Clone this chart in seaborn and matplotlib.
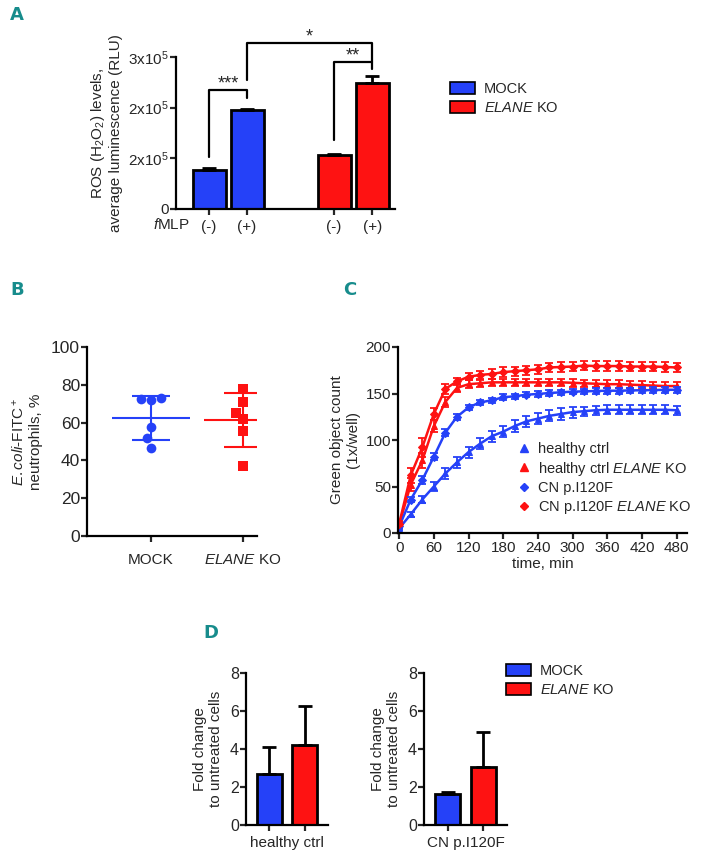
import numpy as np
import pandas as pd
import matplotlib
matplotlib.use('Agg')
import matplotlib.pyplot as plt
from matplotlib.patches import Patch
from matplotlib.lines import Line2D
import seaborn as sns

# --- Data ---
# Panel A: ROS levels (RLU)
a_genotype = ['MOCK', 'MOCK', 'ELANE KO', 'ELANE KO']
a_fmlp = ['(-)', '(+)', '(-)', '(+)']
a_pos = [0, 1, 3.29, 4.29]
a_mean = [0.77e5, 1.95e5, 1.06e5, 2.48e5]
a_err = [0.03e5, 0.03e5, 0.02e5, 0.15e5]
a_yticks = [0, 1e5, 2e5, 3e5]
a_yticklabels = ['0', '2x10$^5$', '2x10$^5$', '3x10$^5$']
# brackets: (x1, x2, top, left leg bottom, right leg bottom, stars)
a_brackets = [(0, 1, 2.35e5, 1.03e5, 2.19e5, '***'),
              (3.29, 4.29, 2.90e5, 1.36e5, 2.76e5, '**'),
              (1, 4.29, 3.27e5, 2.54e5, 2.90e5, '*')]

# Panel B: E.coli-FITC+ neutrophils, %
b_mock = [73.2, 72.2, 72.4, 57.7, 51.6, 46.8]
b_ko = [77.6, 71.0, 65.1, 61.8, 55.5, 36.8]

# Panel C: green object count over time
c_time = list(range(0, 481, 20))
c_healthy = [5, 20, 36, 50, 64, 76, 87, 96, 104, 109, 115, 120, 123, 126, 128, 130,
             131, 132, 132.5, 132.5, 132.5, 132.5, 132.5, 132.5, 132]
c_healthy_err = [2, 3, 4, 5, 6, 6, 6, 6, 6, 6, 6, 6, 6, 6, 6, 6, 5, 5, 5, 5, 5, 5, 5, 5, 5]
c_healthy_ko = [9, 52, 78, 115, 141, 156, 160, 161, 162, 162, 162, 162, 162, 162, 162, 161.5,
                161, 160.5, 160, 160, 159.5, 159, 158.5, 158, 158]
c_healthy_ko_err = [3, 7, 8, 6, 5, 4, 4, 4, 4, 4, 4, 4, 4, 4, 4, 4, 4, 4, 4, 4, 4, 4, 4, 4, 4]
c_cn = [7, 36, 57, 82, 108, 125, 135, 140.5, 142.6, 146, 147, 148.7, 149.5, 150.5, 151.3, 152,
        152.3, 152.7, 153, 153, 153.3, 153.5, 153.7, 154, 154]
c_cn_err = [2, 3, 4, 4, 4, 3, 3, 3, 3, 3, 3, 3, 3, 3, 3, 3, 3, 3, 3, 3, 3, 3, 3, 3, 3]
c_cn_ko = [10, 62, 92, 128, 155, 163, 168, 170, 171, 173, 174, 175, 176, 178, 178.5, 179,
           180, 179.5, 179.5, 179.5, 179, 179, 179, 178.5, 178]
c_cn_ko_err = [3, 8, 10, 6, 5, 4, 4, 4, 5, 5, 5, 5, 5, 5, 5, 5, 5, 5, 5, 5, 5, 5, 5, 5, 5]

# Panel D: fold change to untreated cells
d_genotype = ['MOCK', 'ELANE KO']
d_healthy = [2.7, 4.2]
d_healthy_err = [1.4, 2.05]
d_cn = [1.63, 3.06]
d_cn_err = [0.1, 1.85]

BLUE = '#2541F8'
RED = '#FE1212'
TEAL = '#178c8c'
PALETTE = {'MOCK': BLUE, 'ELANE KO': RED}
KO_LABEL = '$\\it{ELANE}$ KO'

# --- Style ---
sns.set_theme(style='ticks')
plt.rcParams['font.family'] = ['Liberation Sans', 'DejaVu Sans']
plt.rcParams['mathtext.fontset'] = 'custom'
plt.rcParams['mathtext.rm'] = 'Liberation Sans'
plt.rcParams['mathtext.it'] = 'Liberation Sans:italic'
plt.rcParams['mathtext.bf'] = 'Liberation Sans:bold'
plt.rcParams['axes.linewidth'] = 1.6
plt.rcParams['xtick.major.width'] = 1.6
plt.rcParams['ytick.major.width'] = 1.6
plt.rcParams['xtick.major.size'] = 4
plt.rcParams['ytick.major.size'] = 4
plt.rcParams['xtick.major.pad'] = 2
plt.rcParams['ytick.major.pad'] = 1
plt.rcParams['xtick.labelsize'] = 11
plt.rcParams['ytick.labelsize'] = 11
plt.rcParams['axes.labelsize'] = 11
plt.rcParams['axes.edgecolor'] = 'black'

W, H = 704, 857
fig = plt.figure(figsize=(W / 100, H / 100), dpi=100)


def px_axes(left, top, right, bottom):
    return fig.add_axes([left / W, 1 - bottom / H, (right - left) / W, (bottom - top) / H])


def panel_letter(x, y, s):
    fig.text(x / W, 1 - y / H, s, color=TEAL, fontsize=13, fontweight='bold',
             family=['Liberation Sans Narrow', 'DejaVu Sans'], ha='left', va='center')


# --- Panel A ---
axA = px_axes(176, 57, 395, 209)
dfA = pd.DataFrame({'pos': a_pos, 'value': a_mean, 'genotype': a_genotype})
sns.barplot(data=dfA, x='pos', y='value', hue='genotype', palette=PALETTE, native_scale=True,
            width=0.87, dodge=False, edgecolor='black', linewidth=2, errorbar=None,
            saturation=1, legend=False, ax=axA)
axA.errorbar(a_pos, a_mean, yerr=[np.zeros(len(a_err)), a_err], fmt='none', ecolor='black',
             elinewidth=2, capsize=5, capthick=2)
for x1, x2, top, b1, b2, stars in a_brackets:
    axA.plot([x1, x1, x2, x2], [b1, top, top, b2], color='black', lw=1.6, clip_on=False)
    axA.text((x1 + x2) / 2, top - 0.05e5, stars, ha='center', va='bottom', fontsize=13)
axA.set_xlim(-0.87, 4.89)
axA.set_ylim(0, 3e5)
axA.set_xticks(a_pos)
axA.set_xticklabels(a_fmlp)
axA.set_yticks(a_yticks)
axA.set_yticklabels(a_yticklabels)
axA.tick_params(axis='x', pad=4)
axA.set_xlabel('')
axA.set_ylabel('ROS (H$_2$O$_2$) levels,\naverage luminescence (RLU)', labelpad=4)
axA.text(0.064, -0.105, '$\\it{f}$MLP', transform=axA.transAxes, ha='right', va='center',
         fontsize=11)
sns.despine(ax=axA)
fig.legend(handles=[Patch(facecolor=BLUE, edgecolor='black', lw=1.2),
                    Patch(facecolor=RED, edgecolor='black', lw=1.2)],
           labels=['MOCK', KO_LABEL], loc='upper left', bbox_to_anchor=(450 / W, 1 - 82 / H),
           frameon=False, fontsize=10.5, handlelength=1.7, handleheight=0.9,
           handletextpad=0.6, labelspacing=0.35, borderpad=0, borderaxespad=0)
panel_letter(10, 15, 'A')

# --- Panel B ---
axB = px_axes(87, 347, 257, 536)
dfB = pd.DataFrame({'group': ['MOCK'] * len(b_mock) + ['ELANE KO'] * len(b_ko),
                    'value': b_mock + b_ko})
order = ['MOCK', 'ELANE KO']
sns.swarmplot(data=dfB[dfB.group == 'MOCK'], x='group', y='value', order=order, color=BLUE,
              marker='o', size=7, ax=axB)
sns.swarmplot(data=dfB[dfB.group == 'ELANE KO'], x='group', y='value', order=order, color=RED,
              marker='s', size=6.5, ax=axB)
for i, (vals, col) in enumerate([(b_mock, BLUE), (b_ko, RED)]):
    m = np.mean(vals)
    sd = np.std(vals, ddof=1)
    axB.hlines(m, i - 0.42, i + 0.42, color=col, lw=1.5, zorder=1)
    axB.hlines([m - sd, m + sd], i - 0.21, i + 0.21, color=col, lw=1.5, zorder=1)
    axB.vlines(i, m - sd, m + sd, color=col, lw=1.5, zorder=1)
axB.set_xlim(-0.696, 1.152)
axB.set_ylim(0, 100)
axB.set_yticks([0, 20, 40, 60, 80, 100])
axB.set_xticks([0, 1])
axB.set_xticklabels(['MOCK', KO_LABEL])
axB.tick_params(axis='y', labelsize=12.5)
axB.tick_params(axis='x', pad=8)
axB.set_xlabel('')
axB.set_ylabel('$\\it{E.coli}$-FITC$^+$\nneutrophils, %', labelpad=6)
sns.despine(ax=axB)
panel_letter(10, 290, 'B')

# --- Panel C ---
axC = px_axes(398, 347, 687, 533)
series = [(c_healthy, c_healthy_err, BLUE, '^', 'healthy ctrl'),
          (c_healthy_ko, c_healthy_ko_err, RED, '^', 'healthy ctrl ' + KO_LABEL),
          (c_cn, c_cn_err, BLUE, 'D', 'CN p.I120F'),
          (c_cn_ko, c_cn_ko_err, RED, 'D', 'CN p.I120F ' + KO_LABEL)]
handles = []
for vals, errs, col, mk, lab in series:
    sns.lineplot(x=c_time, y=vals, color=col, marker=mk, markersize=5 if mk == '^' else 3.8,
                 markeredgecolor=col, linewidth=1.8, ax=axC)
    axC.errorbar(c_time, vals, yerr=errs, fmt='none', ecolor=col, elinewidth=1.3,
                 capsize=2.8, capthick=1.3)
    handles.append(Line2D([], [], color=col, marker=mk, linestyle='none',
                          markersize=6 if mk == '^' else 4.5))
axC.set_xlim(-2, 498)
axC.set_ylim(0, 200)
axC.set_xticks(range(0, 481, 60))
axC.set_yticks([0, 50, 100, 150, 200])
axC.set_xlabel('time, min', labelpad=1)
axC.set_ylabel('Green object count\n(1x/well)', labelpad=4)
axC.legend(handles=handles, labels=[s[4] for s in series], loc='upper left',
           bbox_to_anchor=(0.41, 0.49), frameon=False, fontsize=10.5, handlelength=1.0,
           handletextpad=0.5, labelspacing=0.25, borderpad=0, borderaxespad=0)
sns.despine(ax=axC)
panel_letter(343, 290, 'C')

# --- Panel D ---
for (left, right), vals, errs, lab in [((246, 328), d_healthy, d_healthy_err, 'healthy ctrl'),
                                        ((424, 507), d_cn, d_cn_err, 'CN p.I120F')]:
    ax = px_axes(left, 673, right, 825)
    sns.barplot(x=d_genotype, y=vals, hue=d_genotype, palette=PALETTE, width=0.69,
                edgecolor='black', linewidth=2, errorbar=None, saturation=1, legend=False,
                ax=ax)
    ax.errorbar([0, 1], vals, yerr=[np.zeros(len(errs)), errs], fmt='none', ecolor='black',
                elinewidth=2, capsize=5, capthick=2)
    ax.set_xlim(-0.66, 1.66)
    ax.set_ylim(0, 8)
    ax.set_yticks([0, 2, 4, 6, 8])
    ax.tick_params(axis='y', labelsize=11.5)
    ax.set_xticks([0, 1])
    ax.set_xticklabels(['', ''])
    ax.set_xlabel(lab, labelpad=2)
    ax.set_ylabel('Fold change\nto untreated cells', labelpad=5)
    sns.despine(ax=ax)
fig.legend(handles=[Patch(facecolor=BLUE, edgecolor='black', lw=1.2),
                    Patch(facecolor=RED, edgecolor='black', lw=1.2)],
           labels=['MOCK', KO_LABEL], loc='upper left', bbox_to_anchor=(506 / W, 1 - 664 / H),
           frameon=False, fontsize=10.5, handlelength=1.7, handleheight=0.9,
           handletextpad=0.6, labelspacing=0.35, borderpad=0, borderaxespad=0)
panel_letter(203, 633, 'D')

fig.savefig('out.png', dpi=100)
